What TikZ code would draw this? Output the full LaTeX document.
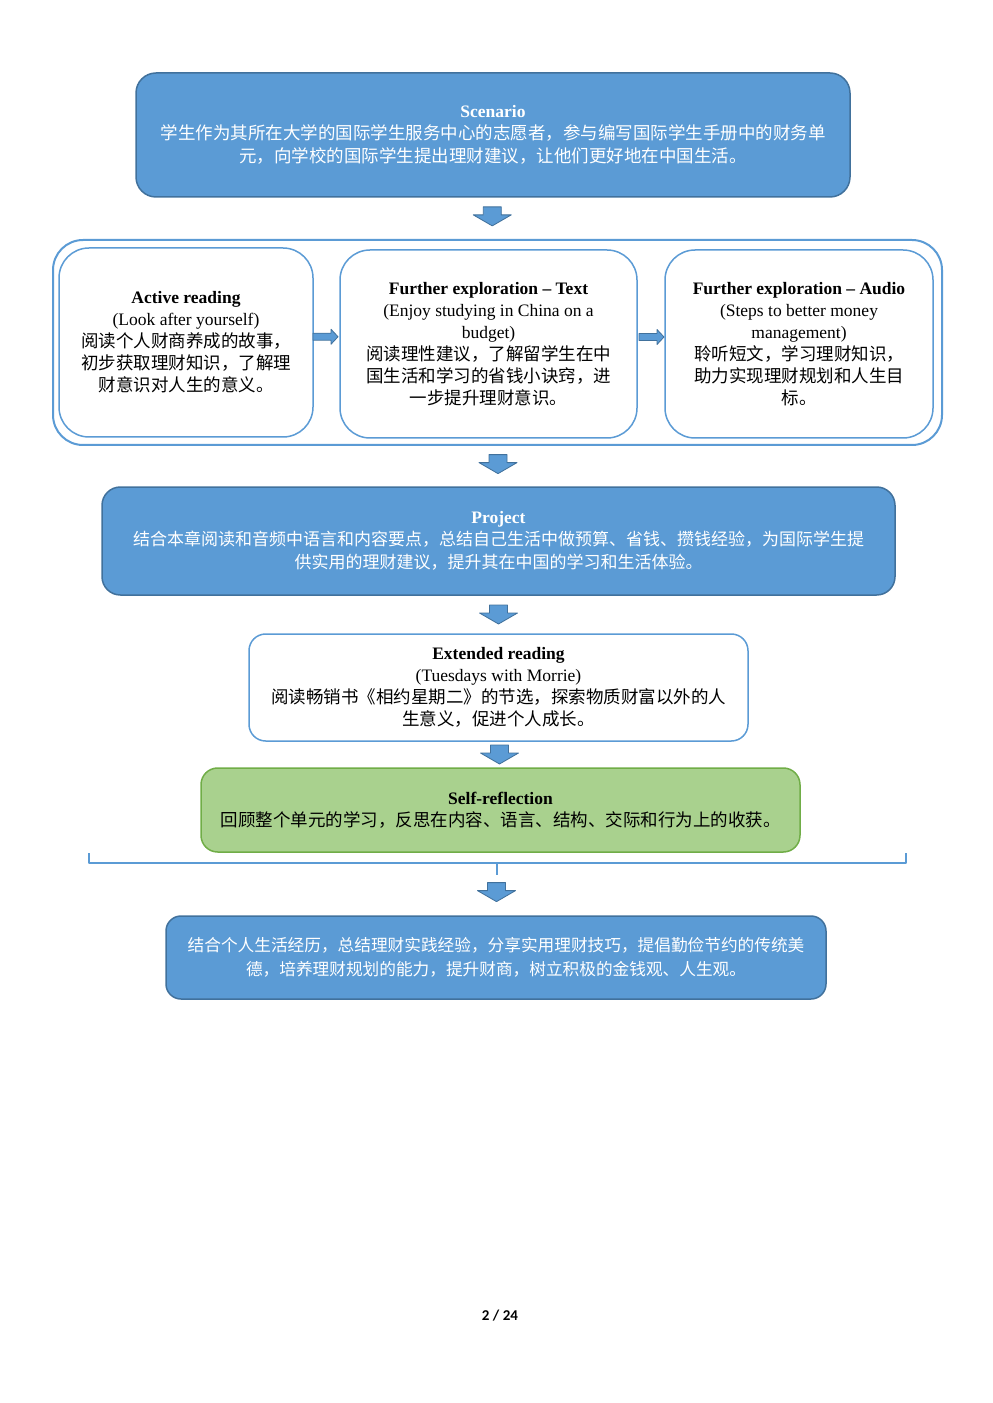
\documentclass[tikz,border=0pt]{standalone}
\usepackage{fontspec}
\setmainfont{Liberation Serif}
\newfontfamily\cjk{Noto Sans CJK SC}
\newfontfamily\pagefont{Carlito}
\usetikzlibrary{calc}
\definecolor{boxblue}{HTML}{5B9BD5}
\definecolor{edgeblue}{HTML}{41719C}
\definecolor{boxgreen}{HTML}{A9D18E}
\definecolor{edgegreen}{HTML}{70AD47}
\begin{document}
\begin{tikzpicture}[x=0.6pt, y=-0.6pt, line join=round, line cap=round,
    font=\fontsize{10.5}{13.2}\selectfont,
    bluebox/.style={draw=edgeblue, line width=0.9pt, fill=boxblue, text=white, rounded corners=12pt, align=center, inner sep=0pt},
    whitebox/.style={draw=boxblue, line width=0.9pt, fill=white, rounded corners=18pt, align=center, inner sep=0pt},
    greenbox/.style={draw=edgegreen, line width=0.9pt, fill=boxgreen, rounded corners=10pt, align=center, inner sep=0pt},
    blockdown/.pic={\draw[draw=edgeblue, fill=boxblue, line width=0.5pt] (-9,-9.5)--(9,-9.5)--(9,-1.5)--(19,-1.5)--(0,9.5)--(-19,-1.5)--(-9,-1.5)--cycle;},
    blockright/.pic={\draw[draw=edgeblue, fill=boxblue, line width=0.5pt] (-12.5,-3.5)--(5.5,-3.5)--(5.5,-7.5)--(12.5,0)--(5.5,7.5)--(5.5,3.5)--(-12.5,3.5)--cycle;}]
    \useasboundingbox (0,0) rectangle (992,1403);
    % scenario
    \node[bluebox, minimum width=428.4pt, minimum height=74.4pt] (scn) at (493,135)
        {\textbf{Scenario}\\ {\cjk 学生作为其所在大学的国际学生服务中心的志愿者，参与编写国际学生手册中的财务单}\\[1pt]
        {\cjk 元，向学校的国际学生提出理财建议，让他们更好地在中国生活。}};
    % reading and listening group
    \node[whitebox, line width=1.2pt, minimum width=533.4pt, minimum height=123pt] (grp) at (497.5,342.5) {};
    \node[whitebox, minimum width=152.4pt, minimum height=113.4pt] (ar) at (186,342.5)
        {\textbf{Active reading}\\ (Look after yourself)\\ {\cjk 阅读个人财商养成的故事，}\\ {\cjk 初步获取理财知识，了解理}\\ {\cjk 财意识对人生的意义。}};
    \node[whitebox, minimum width=178.2pt, minimum height=112.8pt] (fet) at (488.5,344)
        {\textbf{Further exploration – Text}\\ (Enjoy studying in China on a\\ budget)\\ {\cjk 阅读理性建议，了解留学生在中}\\ {\cjk 国生活和学习的省钱小诀窍，进}\\ {\cjk 一步提升理财意识。}};
    \node[whitebox, minimum width=160.8pt, minimum height=112.8pt] (fea) at (799,344)
        {\textbf{Further exploration – Audio}\\ (Steps to better money\\ management)\\ {\cjk 聆听短文，学习理财知识，}\\ {\cjk 助力实现理财规划和人生目}\\ {\cjk 标。}};
    \pic (arfet) at ($(ar.east)!.5!(fet.west)+(-1,-6.5)$) {blockright};
    \pic (fetfea) at ($(fet.east)!.5!(fea.west)+(0.5,-7)$) {blockright};
    % project
    \node[bluebox, rounded corners=11pt, minimum width=475.8pt, minimum height=64.8pt] (prj) at (498.5,541)
        {\textbf{Project}\\ {\fontsize{10.2}{13.2}\selectfont\cjk 结合本章阅读和音频中语言和内容要点，总结自己生活中做预算、省钱、攒钱经验，为国际学生提}\\[1pt]
        {\fontsize{10.2}{13.2}\selectfont\cjk 供实用的理财建议，提升其在中国的学习和生活体验。}};
    % extended reading
    \node[whitebox, rounded corners=10pt, minimum width=299.4pt, minimum height=64.2pt] (ext) at (498.5,687.5)
        {\textbf{Extended reading}\\ (Tuesdays with Morrie)\\ {\cjk 阅读畅销书《相约星期二》的节选，探索物质财富以外的人}\\ {\cjk 生意义，促进个人成长。}};
    % self-reflection
    \node[greenbox, minimum width=359.4pt, minimum height=50.4pt] (slf) at (500.5,810)
        {\textbf{Self-reflection}\\ {\cjk 回顾整个单元的学习，反思在内容、语言、结构、交际和行为上的收获。}};
    % outcome
    \node[bluebox, rounded corners=9pt, minimum width=396pt, minimum height=49.8pt] (fin) at (496,957.5)
        {{\fontsize{10}{13.2}\selectfont\cjk 结合个人生活经历，总结理财实践经验，分享实用理财技巧，提倡勤俭节约的传统美}\\[1pt]
        {\fontsize{10}{13.2}\selectfont\cjk 德，培养理财规划的能力，提升财商，树立积极的金钱观、人生观。}};
    % brace under everything
    \coordinate (bl) at (89,853);
    \coordinate (br) at (906,853);
    \coordinate (bt) at (497,875);
    \draw[boxblue, line width=1.2pt, line cap=butt] (bl) -- ++(0,10) -| (br);
    \draw[boxblue, line width=1.2pt, line cap=butt] (bt |- 0,863) -- (bt);
    % down arrows
    \pic (scngrp) at ($(scn.south)!.5!(grp.north)+(-3,-2)$) {blockdown};
    \pic (grpprj) at ($(grp.south)!.5!(prj.north)+(0,-2)$) {blockdown};
    \pic (prjext) at ($(prj.south)!.5!(ext.north)$) {blockdown};
    \pic (extslf) at ($(ext.south)!.5!(slf.north)$) {blockdown};
    \pic (btfin) at ($(bt)!.5!(fin.north)+(0,-3)$) {blockdown};
    % page number
    \node[font=\pagefont\bfseries\fontsize{9}{11}\selectfont] (pgn) at (500,1316) {2 / 24};
\end{tikzpicture}
\end{document}
